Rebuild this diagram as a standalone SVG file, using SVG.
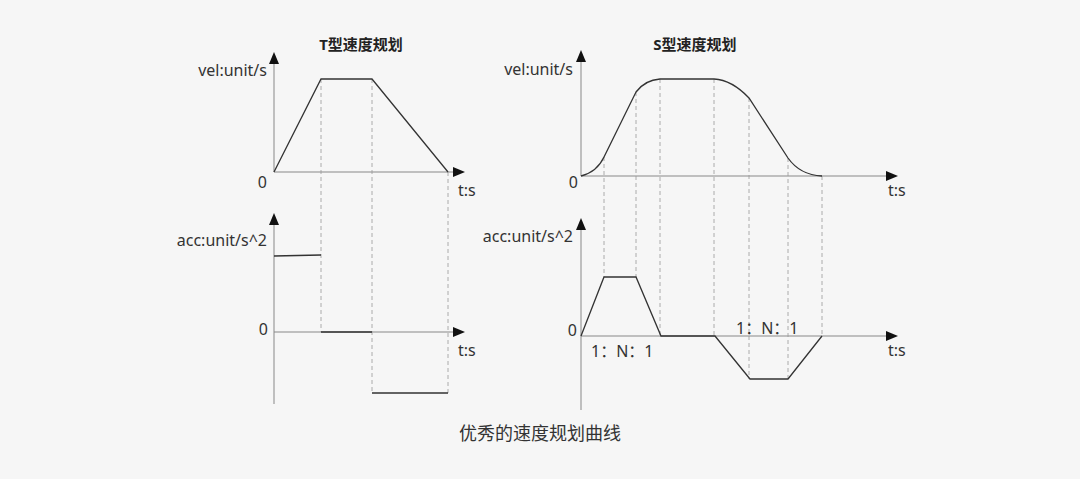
<svg xmlns="http://www.w3.org/2000/svg" width="1080" height="479" viewBox="0 0 1080 479">
<defs>
<marker id="a" viewBox="0 0 12 10" refX="0" refY="5" markerWidth="12" markerHeight="10" orient="auto" markerUnits="userSpaceOnUse"><path d="M0,0 L12,5 L0,10 z" fill="#111"/></marker>
<style>
text{font-family:"Noto Sans","Noto Sans CJK SC",sans-serif;fill:#333;font-size:16px}
.t{font-weight:bold;font-size:15px;fill:#222}
.ax{stroke:#888;stroke-width:1;fill:none}
.c{stroke:#333;stroke-width:1.3;fill:none}
.d{stroke:#999;stroke-width:0.8;stroke-dasharray:4 3;fill:none}
</style>
</defs>
<rect width="1080" height="479" fill="#f6f6f6"/>
<g id="connectors">
<line class="ax" x1="274" y1="172" x2="274" y2="64" marker-end="url(#a)"/>
<line class="ax" x1="274" y1="172" x2="453" y2="172" marker-end="url(#a)"/>
<line class="ax" x1="274" y1="404" x2="274" y2="225" marker-end="url(#a)"/>
<line class="ax" x1="274" y1="332" x2="453" y2="332" marker-end="url(#a)"/>
<line class="ax" x1="581" y1="176" x2="581" y2="62" marker-end="url(#a)"/>
<line class="ax" x1="581" y1="176" x2="886" y2="176" marker-end="url(#a)"/>
<line class="ax" x1="581" y1="410" x2="581" y2="230" marker-end="url(#a)"/>
<line class="ax" x1="581" y1="336" x2="886" y2="336" marker-end="url(#a)"/>
<path class="d" d="M321,79V332M372,79V393M448,172V393"/>
<path class="d" d="M604,157V277M636,92V277M660,79V336M714,79V336M749,98V379M788,158V379M822,176V336"/>
</g>
<g id="t-vel"><path class="c" d="M274,172L321,79H372L448,172"/></g>
<g id="t-acc"><path class="c" d="M274,256L321,255M321,332H372M372,393H448"/></g>
<g id="s-vel"><path class="c" d="M581,176Q597,172 604,157L636,92Q645,80 660,79H714Q732,80 749,98L788,158Q800,175 822,176"/></g>
<g id="s-acc"><path class="c" d="M581,336L604,277H636L661,336H715L750,379H788L822,336"/></g>
<g id="labels">
<text class="t" x="361" y="50" text-anchor="middle">T型速度规划</text>
<text class="t" x="695" y="50" text-anchor="middle">S型速度规划</text>
<text x="267" y="76" text-anchor="end">vel:unit/s</text>
<text x="267" y="188" text-anchor="end">0</text>
<text x="458" y="196">t:s</text>
<text x="267" y="246" text-anchor="end">acc:unit/s^2</text>
<text x="268" y="335" text-anchor="end">0</text>
<text x="458" y="356">t:s</text>
<text x="573" y="75" text-anchor="end">vel:unit/s</text>
<text x="578" y="188" text-anchor="end">0</text>
<text x="888" y="196">t:s</text>
<text x="573" y="242" text-anchor="end">acc:unit/s^2</text>
<text x="577" y="336" text-anchor="end">0</text>
<text x="888" y="356">t:s</text>
<text x="591" y="357">1：N：1</text>
<text x="736" y="334">1：N：1</text>
<text x="540" y="440" text-anchor="middle" style="font-size:18px">优秀的速度规划曲线</text>
</g>
</svg>
